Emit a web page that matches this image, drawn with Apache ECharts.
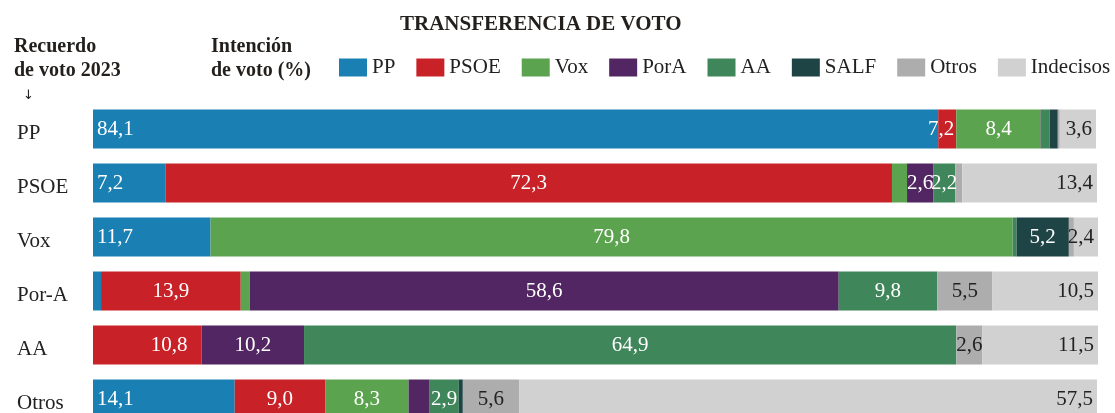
<!DOCTYPE html>
<html>
<head>
<meta charset="utf-8">
<title>Transferencia de voto</title>
<script src="https://cdn.jsdelivr.net/npm/echarts@6/dist/echarts.min.js"></script>
<style>
  html, body { margin: 0; padding: 0; background: #fff; }
  #chart { width: 1115px; height: 413px; }
</style>
</head>
<body>
<div id="chart"></div>
<script>
// recuerdo de voto 2023 (filas)
const rows = ['PP', 'PSOE', 'Vox', 'Por-A', 'AA', 'Otros']

// intencion de voto (%) por fila
const ppVals = [84.1, 7.2, 11.7, 0.8, 0, 14.1]
const psoeVals = [1.8, 72.3, 0, 13.9, 10.8, 9.0]
const voxVals = [8.4, 1.5, 79.8, 0.9, 0, 8.3]
const poraVals = [0.1, 2.6, 0, 58.6, 10.2, 2.1]
const aaVals = [0.8, 2.2, 0.4, 9.8, 64.9, 2.9]
const salfVals = [0.8, 0, 5.2, 0, 0, 0.4]
const otrosVals = [0.2, 0.7, 0.5, 5.5, 2.6, 5.6]
const indecisosVals = [3.6, 13.4, 2.4, 10.5, 11.5, 57.5]

// the printed chart labels the small PSOE slice of the PP row "7,2"
const labelText = { 'PSOE-0': '7,2' }

const series = [
  { name: 'PP', data: ppVals, color: '#1a80b3', text: '#fff', pos: 'insideLeft' },
  { name: 'PSOE', data: psoeVals, color: '#c82228', text: '#fff', pos: 'inside' },
  { name: 'Vox', data: voxVals, color: '#5ba34e', text: '#fff', pos: 'inside' },
  { name: 'PorA', data: poraVals, color: '#522662', text: '#fff', pos: 'inside' },
  { name: 'AA', data: aaVals, color: '#3f865b', text: '#fff', pos: 'inside' },
  { name: 'SALF', data: salfVals, color: '#1f4446', text: '#fff', pos: 'inside' },
  { name: 'Otros', data: otrosVals, color: '#adadad', text: '#222', pos: 'inside' },
  { name: 'Indecisos', data: indecisosVals, color: '#d1d1d1', text: '#222', pos: 'insideRight' }
]

const serif = 'Liberation Serif'

function fmt(v) {
  return v.toFixed(1).replace('.', ',')
}

const chart = echarts.init(document.getElementById('chart'), null, { renderer: 'canvas' })

const option = {
  backgroundColor: '#fff',
  animation: false,
  textStyle: { fontFamily: serif },
  title: {
    text: 'TRANSFERENCIA DE VOTO',
    left: 395,
    top: 9,
    textStyle: {
      fontFamily: serif,
      fontSize: 21,
      fontWeight: 'bold',
      color: '#231f1c'
    }
  },
  legend: {
    left: 339,
    top: 57,
    padding: 0,
    width: 776,
    itemWidth: 28,
    itemHeight: 18,
    itemGap: 21,
    icon: 'rect',
    textStyle: {
      fontFamily: serif,
      fontSize: 21,
      color: '#222'
    },
    data: series.map(s => s.name)
  },
  graphic: [
    { type: 'text', left: 14, top: 35, style: { text: 'Recuerdo\nde voto 2023', font: 'bold 20px "Liberation Serif"', fill: '#231f1c', lineHeight: 24 } },
    { type: 'text', left: 211, top: 35, style: { text: 'Intención\nde voto (%)', font: 'bold 20px "Liberation Serif"', fill: '#231f1c', lineHeight: 24 } },
    { type: 'text', left: 23, top: 89, style: { text: '↓', font: '13px "DejaVu Sans"', fill: '#231f1c' } }
  ],
  grid: {
    left: 93,
    right: 17,
    top: 102,
    height: 324,
    outerBoundsMode: 'none'
  },
  xAxis: {
    type: 'value',
    min: 0,
    max: 100,
    show: false
  },
  yAxis: {
    type: 'category',
    inverse: true,
    data: rows,
    axisLine: { show: false },
    axisTick: { show: false },
    axisLabel: {
      align: 'left',
      margin: 76,
      formatter: '{r|{value}}',
      rich: {
        r: {
          padding: [9, 0, 0, 0],
          fontFamily: serif,
          fontSize: 21,
          color: '#222'
        }
      }
    }
  },
  series: series.map(s => ({
    name: s.name,
    type: 'bar',
    stack: 'total',
    barWidth: 39,
    itemStyle: { color: s.color },
    label: {
      show: true,
      position: s.pos,
      distance: 4,
      fontFamily: serif,
      fontSize: 21,
      color: s.text,
      formatter(p) {
        const key = s.name + '-' + p.dataIndex
        if (labelText[key]) return labelText[key]
        return p.value >= 2.2 ? fmt(p.value) : ''
      }
    },
    data: s.data.map((v, i) => {
      if (s.name === 'PSOE' && i === 0) {
        return { value: v, label: { position: 'insideRight', distance: 2 } }
      }
      if (s.name === 'PSOE' && i === 4) {
        return { value: v, label: { position: 'insideRight', distance: 14 } }
      }
      return v
    })
  }))
}

chart.setOption(option)
</script>
</body>
</html>
